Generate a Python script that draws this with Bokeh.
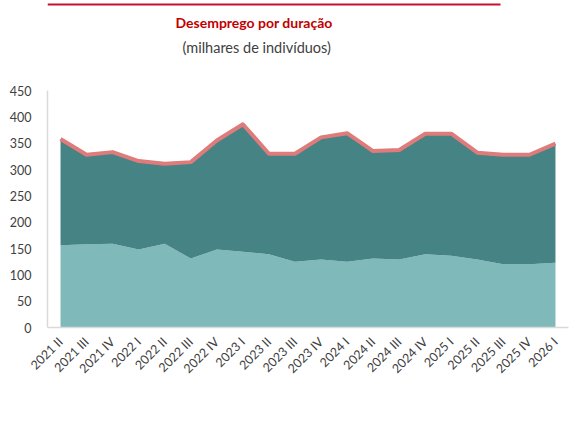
from bokeh.plotting import figure
from bokeh.models import (FactorRange, Range1d, Legend, LegendItem, Label,
                          BoxAnnotation, ColumnDataSource)
from bokeh.embed import file_html
from bokeh.resources import INLINE
import math

quarters = ["2021 II", "2021 III", "2021 IV", "2022 I", "2022 II", "2022 III",
            "2022 IV", "2023 I", "2023 II", "2023 III", "2023 IV", "2024 I",
            "2024 II", "2024 III", "2024 IV", "2025 I", "2025 II", "2025 III",
            "2025 IV", "2026 I"]
longa = [156, 158, 159, 148, 159, 131, 148, 144, 139, 125, 129, 125, 131, 129,
         139, 136, 129, 120, 120, 123]
curta = [202, 170, 174, 168, 152, 183, 207, 242, 191, 205, 232, 244, 204, 208,
         229, 232, 203, 208, 208, 226]
total = [358, 328, 333, 316, 311, 314, 355, 386, 330, 330, 361, 369, 335, 337,
         368, 368, 332, 328, 328, 349]
y_ticks = [0, 50, 100, 150, 200, 250, 300, 350, 400, 450]
y_max = 450

FONT = "Lato"
TXT = "#404040"

FRAME_H = 327
PLOT_H = 237          # pixels used by the 0..450 value range
y_top = y_max * FRAME_H / PLOT_H

src = ColumnDataSource(dict(q=quarters, longa=longa, curta=curta, total=total))

p = figure(x_range=FactorRange(*quarters), y_range=Range1d(0, y_top),
           frame_width=521, frame_height=FRAME_H,
           output_backend="svg", toolbar_location=None,
           min_border_left=47, min_border_right=19, min_border_top=0,
           min_border_bottom=94, title=None)
p.outline_line_color = None
p.xgrid.grid_line_color = None
p.ygrid.grid_line_color = None

areas = p.varea_stack(["longa", "curta"], x="q", source=src,
                      color=["#7FB9BA", "#468384"])
ln = p.line("q", "total", source=src, line_color="#E07B7B", line_width=4,
            line_join="round")

p.yaxis.ticker = y_ticks
p.yaxis.bounds = (0, y_max)
p.yaxis.axis_line_color = "#D9D9D9"
p.yaxis.axis_line_width = 1.5
p.yaxis.major_tick_line_color = None
p.yaxis.minor_tick_line_color = None
p.yaxis.major_label_standoff = 10
p.yaxis.major_label_text_font = FONT
p.yaxis.major_label_text_font_size = "12.5px"
p.yaxis.major_label_text_color = TXT

p.xaxis.axis_line_color = "#D9D9D9"
p.xaxis.axis_line_width = 1.5
p.xaxis.major_tick_line_color = None
p.xaxis.minor_tick_line_color = None
p.xaxis.major_label_orientation = math.pi / 4
p.xaxis.major_label_standoff = 6
p.xaxis.major_label_text_font = FONT
p.xaxis.major_label_text_font_size = "12.5px"
p.xaxis.major_label_text_color = TXT

legend = Legend(items=[
    LegendItem(label="Desemprego longa duração", renderers=[areas[0]]),
    LegendItem(label="Desemprego curta duração", renderers=[areas[1]]),
    LegendItem(label="Desemprego", renderers=[ln]),
], location="bottom_left", orientation="horizontal", padding=0, margin=0,
    spacing=8, label_standoff=4, glyph_width=43, glyph_height=8,
    label_height=16, border_line_color=None, background_fill_alpha=0,
    label_text_font=FONT, label_text_font_size="12.5px",
    label_text_color=TXT)
p.add_layout(legend, "below")

# titles inside the (extended) frame, positions in screen px from frame bottom-left
p.add_layout(Label(x=128, y=FRAME_H - 22, x_units="screen", y_units="screen",
                   text="Desemprego por duração", text_align="left",
                   text_baseline="middle", text_font=FONT,
                   text_font_size="14px", text_font_style="bold",
                   text_color="#C00000"))
p.add_layout(Label(x=135, y=FRAME_H - 47, x_units="screen", y_units="screen",
                   text="(milhares de indivíduos)", text_align="left",
                   text_baseline="middle", text_font=FONT,
                   text_font_size="14.5px", text_color=TXT))
p.add_layout(BoxAnnotation(left=0, right=453, top=FRAME_H - 3,
                           bottom=FRAME_H - 5, left_units="screen",
                           right_units="screen", top_units="screen",
                           bottom_units="screen", fill_color="#C8102E",
                           fill_alpha=1, line_color=None))

open("out.html", "w").write(file_html(p, INLINE))
